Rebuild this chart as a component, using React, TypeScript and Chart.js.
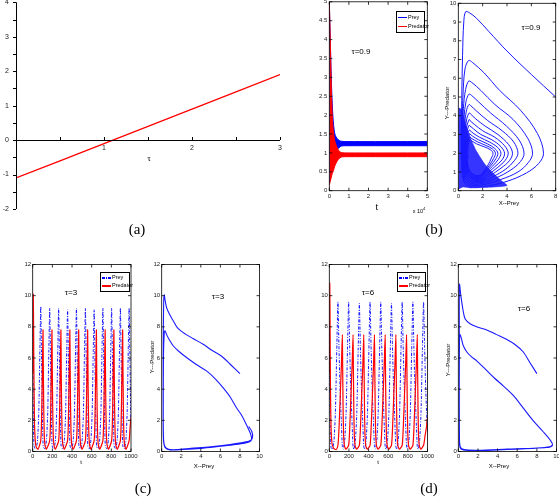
import React, { useEffect, useRef } from 'react';
import { Chart, registerables } from 'chart.js';
Chart.register(...registerables);

type P = [number, number];
const SANS = "'Liberation Sans', Arial, sans-serif";
const SERIF = "'Liberation Serif', 'DejaVu Serif', serif";
const RED = 'rgb(255,0,0)';
const BLUE = 'rgb(0,0,255)';

// ---------- (a) ----------
const aTau = [0, 0.5, 1, 1.5, 2, 2.5, 3];
const aVal = [-1.1, -0.6, -0.1, 0.4, 0.9, 1.4, 1.9];
const aXTicks = [0, 0.5, 1, 1.5, 2, 2.5, 3];
const aXLabels = ['', '', '1', '', '2', '', '3'];

// ---------- (b) time series envelopes (t in units, axis shown x10^4) ----------
const bT = [0, 500, 1000, 1500, 2000, 2500, 3000, 4000, 5000, 6000, 8000, 50000];
const bPreyHi = [5.0, 4.0, 3.0, 2.3, 1.85, 1.6, 1.47, 1.38, 1.33, 1.31, 1.3, 1.3];
const bPreyLo = [0.2, 0.35, 0.5, 0.65, 0.8, 0.9, 0.98, 1.08, 1.14, 1.18, 1.19, 1.19];
const bPredHi = [5.0, 4.0, 2.8, 2.0, 1.6, 1.4, 1.28, 1.14, 1.05, 1.01, 1.0, 1.0];
const bPredLo = [0.15, 0.25, 0.35, 0.45, 0.52, 0.6, 0.68, 0.78, 0.85, 0.89, 0.9, 0.9];

// ---------- (b) phase portrait ----------
const bPhase: P[] = [
  [8, 5], [6, 6.2], [4, 7.45], [2.5, 8.5], [1.5, 9.2], [0.9, 9.5], [0.6, 9.55], [0.45, 9.0],
  [0.35, 7.2], [0.27, 4], [0.28, 1.5], [0.45, 0.5], [1.0, 0.22], [2.1, 0.22], [4.0, 0.5], [5.6, 0.95], [6.6, 1.45], [7.0, 2.0], [6.5, 3.05], [5.1, 4.3], [3.4, 5.35], [2.1, 6.3], [1.15, 6.85], [0.85, 6.95], [0.55, 6.5],
  [0.38, 5.0], [0.3, 3.0], [0.32, 1.4], [0.5, 0.6], [1.05, 0.3], [1.9, 0.3], [3.5, 0.6], [4.9, 1.0], [5.75, 1.5], [6.1, 2.0], [5.7, 2.8], [4.5, 3.8], [3.0, 4.6], [1.85, 5.35], [1.1, 5.78], [0.85, 5.85], [0.6, 5.4],
  [0.42, 4.4], [0.35, 2.8], [0.38, 1.4], [0.55, 0.7], [1.1, 0.38], [1.9, 0.38], [3.1, 0.68], [4.3, 1.1], [5.1, 1.55], [5.4, 2.0], [5.0, 2.7], [3.95, 3.45], [2.65, 4.15], [1.65, 4.75], [1.1, 5.08], [0.87, 5.15], [0.63, 4.75],
  [0.47, 3.9], [0.4, 2.6], [0.43, 1.4], [0.6, 0.75], [1.15, 0.45], [1.9, 0.45], [2.85, 0.75], [3.9, 1.15], [4.6, 1.6], [4.9, 2.0], [4.55, 2.6], [3.6, 3.2], [2.4, 3.75], [1.5, 4.25], [1.05, 4.52], [0.88, 4.6], [0.66, 4.25],
  [0.52, 3.5], [0.45, 2.4], [0.48, 1.45], [0.65, 0.82], [1.2, 0.52], [1.9, 0.52], [2.6, 0.8], [3.5, 1.2], [4.2, 1.6], [4.45, 2.0], [4.15, 2.45], [3.25, 3.0], [2.2, 3.45], [1.4, 3.85], [1.0, 4.1], [0.9, 4.15], [0.7, 3.85],
  [0.56, 3.2], [0.5, 2.3], [0.53, 1.5], [0.7, 0.88], [1.25, 0.58], [1.9, 0.58], [2.45, 0.85], [3.25, 1.25], [3.85, 1.62], [4.1, 2.0], [3.8, 2.4], [3.0, 2.85], [2.0, 3.2], [1.3, 3.55], [0.95, 3.75], [0.9, 3.8], [0.72, 3.5],
  [0.6, 2.95], [0.55, 2.2], [0.58, 1.5], [0.75, 0.93], [1.3, 0.63], [1.9, 0.64], [2.35, 0.9], [3.0, 1.28], [3.6, 1.65], [3.8, 2.0], [3.5, 2.35], [2.75, 2.72], [1.85, 3.0], [1.25, 3.3], [0.95, 3.46], [0.9, 3.5], [0.75, 3.25],
  [0.63, 2.75], [0.6, 2.1], [0.63, 1.5], [0.8, 0.98], [1.3, 0.68], [1.85, 0.7], [2.25, 0.95], [2.8, 1.3], [3.3, 1.68], [3.5, 2.0], [3.25, 2.3], [2.55, 2.6], [1.75, 2.85], [1.2, 3.08], [0.95, 3.22], [0.92, 3.25], [0.78, 3.05],
  [0.66, 2.6], [0.64, 2.05], [0.67, 1.5], [0.84, 1.02], [1.32, 0.73], [1.85, 0.75], [2.2, 0.98], [2.65, 1.32], [3.08, 1.7], [3.25, 2.0], [3.0, 2.25], [2.4, 2.5], [1.65, 2.72], [1.15, 2.92], [0.95, 3.03], [0.93, 3.05], [0.8, 2.85],
  [0.7, 2.45], [0.68, 2.0], [0.71, 1.5], [0.88, 1.06], [1.35, 0.78], [1.85, 0.8], [2.15, 1.02], [2.55, 1.35], [2.9, 1.72], [3.05, 2.0], [2.82, 2.22], [2.25, 2.42], [1.6, 2.6], [1.12, 2.78], [0.96, 2.86], [0.94, 2.88], [0.82, 2.7],
  [0.73, 2.35], [0.72, 1.95], [0.75, 1.5], [0.92, 1.1], [1.38, 0.82], [1.85, 0.85], [2.1, 1.05], [2.45, 1.38], [2.72, 1.74], [2.85, 2.0], [2.65, 2.18], [2.1, 2.35], [1.5, 2.5], [1.1, 2.66], [0.97, 2.72], [0.85, 2.55], [0.78, 2.2], [0.8, 1.7],
];
const bDense: P[] = [
  [0.05, 0.1], [0.05, 4.4], [0.3, 4.3], [0.6, 3.6], [1.0, 2.8], [1.5, 2.1], [2.2, 1.4], [3.0, 0.85], [3.6, 0.5],
  [4.0, 0.28], [3.0, 0.2], [2.0, 0.17], [1.0, 0.15], [0.4, 0.2], [0.05, 0.1],
];

// ---------- (c) tau = 3 ----------
const cPrey: P[] = [
  [0, 8], [4, 4.5], [8, 1.5], [13, 0.4], [22, 0.2],
  [37, 0.2], [50, 0.8], [62, 2.5], [73, 6.5], [82, 9.3], [89, 6.5], [96, 3.2], [102, 1.2], [107, 0.35], [117, 0.2],
  [128, 0.2], [141, 0.8], [153, 2.5], [164, 6.5], [173, 9.2], [180, 6.5], [187, 3.2], [193, 1.2], [198, 0.35], [208, 0.2],
  [219, 0.2], [232, 0.8], [244, 2.5], [255, 6.5], [264, 9.2], [271, 6.5], [278, 3.2], [284, 1.2], [289, 0.35], [299, 0.2],
  [310, 0.2], [323, 0.8], [335, 2.5], [346, 6.5], [355, 9.1], [362, 6.5], [369, 3.2], [375, 1.2], [380, 0.35], [390, 0.2],
  [400, 0.2], [413, 0.8], [425, 2.5], [436, 6.5], [445, 9.2], [452, 6.5], [459, 3.2], [465, 1.2], [470, 0.35], [480, 0.2],
  [491, 0.2], [504, 0.8], [516, 2.5], [527, 6.5], [536, 9.2], [543, 6.5], [550, 3.2], [556, 1.2], [561, 0.35], [571, 0.2],
  [580, 0.2], [593, 0.8], [605, 2.5], [616, 6.5], [625, 9.1], [632, 6.5], [639, 3.2], [645, 1.2], [650, 0.35], [660, 0.2],
  [669, 0.2], [682, 0.8], [694, 2.5], [705, 6.5], [714, 9.2], [721, 6.5], [728, 3.2], [734, 1.2], [739, 0.35], [749, 0.2],
  [758, 0.2], [771, 0.8], [783, 2.5], [794, 6.5], [803, 9.2], [810, 6.5], [817, 3.2], [823, 1.2], [828, 0.35], [838, 0.2],
  [847, 0.2], [860, 0.8], [872, 2.5], [883, 6.5], [892, 9.2], [899, 6.5], [906, 3.2], [912, 1.2], [917, 0.35], [927, 0.2],
  [936, 0.2], [949, 0.8], [961, 2.5], [972, 6.5], [981, 9.2], [988, 6.5], [995, 3.2], [1000, 1.5],
];
const cPred: P[] = [
  [0, 5], [3, 8.5], [6, 10.1], [9, 8], [13, 4.5], [18, 2], [25, 0.8], [35, 0.3], [55, 0.15],
  [82, 0.7], [90, 2.0], [97, 4.5], [105, 7.8], [108, 5.5], [112, 3.0], [117, 1.2], [125, 0.4], [140, 0.15],
  [173, 0.7], [181, 2.0], [188, 4.5], [196, 7.8], [199, 5.5], [203, 3.0], [208, 1.2], [216, 0.4], [231, 0.15],
  [264, 0.7], [272, 2.0], [279, 4.5], [287, 7.8], [290, 5.5], [294, 3.0], [299, 1.2], [307, 0.4], [322, 0.15],
  [355, 0.7], [363, 2.0], [370, 4.5], [378, 7.8], [381, 5.5], [385, 3.0], [390, 1.2], [398, 0.4], [413, 0.15],
  [445, 0.7], [453, 2.0], [460, 4.5], [468, 7.8], [471, 5.5], [475, 3.0], [480, 1.2], [488, 0.4], [503, 0.15],
  [536, 0.7], [544, 2.0], [551, 4.5], [559, 7.8], [562, 5.5], [566, 3.0], [571, 1.2], [579, 0.4], [594, 0.15],
  [625, 0.7], [633, 2.0], [640, 4.5], [648, 7.8], [651, 5.5], [655, 3.0], [660, 1.2], [668, 0.4], [683, 0.15],
  [714, 0.7], [722, 2.0], [729, 4.5], [737, 7.8], [740, 5.5], [744, 3.0], [749, 1.2], [757, 0.4], [772, 0.15],
  [803, 0.7], [811, 2.0], [818, 4.5], [826, 7.8], [829, 5.5], [833, 3.0], [838, 1.2], [846, 0.4], [861, 0.15],
  [892, 0.7], [900, 2.0], [907, 4.5], [915, 7.8], [918, 5.5], [922, 3.0], [927, 1.2], [935, 0.4], [950, 0.15],
  [981, 0.7], [990, 1.5], [1000, 2.2],
];
const cPhase: P[] = [
  [8, 5.0], [7, 5.6], [6.1, 6.13], [5, 6.55], [4.24, 6.88], [3.2, 7.25], [2.2, 7.63], [1.6, 7.95], [1.19, 8.38], [0.8, 8.8],
  [0.5, 9.23], [0.35, 9.7], [0.26, 10.05], [0.2, 9.5], [0.16, 7], [0.15, 3], [0.18, 0.8], [0.34, 0.26], [0.85, 0.1],
  [2.2, 0.13], [4, 0.2], [5.6, 0.3], [7, 0.4], [8.3, 0.51], [9.0, 0.62], [9.2, 0.8], [9.1, 1.1], [8.9, 1.4], [8.64, 1.75],
  [8.2, 2.3], [7.63, 2.82], [7, 3.5], [6.27, 4.1], [5.5, 4.65], [4.58, 5.17], [3.5, 5.6], [2.54, 6.03], [1.8, 6.4],
  [1.19, 6.77], [0.75, 7.2], [0.5, 7.5], [0.34, 7.74], [0.25, 7.5], [0.18, 6], [0.16, 3], [0.18, 1], [0.3, 0.35],
  [0.7, 0.15], [1.5, 0.12], [3, 0.2], [5, 0.3], [7, 0.45], [8.5, 0.6], [9.15, 0.75], [9.3, 1.0], [9.2, 1.3], [8.9, 1.6],
];

// ---------- (d) tau = 6 ----------
const dPrey: P[] = [
  [0, 8], [6, 3], [12, 0.6], [20, 0.2],
  [33, 0.15], [48, 0.7], [62, 2.5], [76, 6.5], [88, 9.6], [98, 6.8], [110, 4.0], [122, 2.0], [133, 0.3],
  [142, 0.15], [157, 0.7], [171, 2.5], [185, 6.5], [197, 9.6], [207, 6.8], [219, 4.0], [231, 2.0], [242, 0.3],
  [251, 0.15], [266, 0.7], [280, 2.5], [294, 6.5], [306, 9.5], [316, 6.8], [328, 4.0], [340, 2.0], [351, 0.3],
  [360, 0.15], [375, 0.7], [389, 2.5], [403, 6.5], [415, 9.6], [425, 6.8], [437, 4.0], [449, 2.0], [460, 0.3],
  [469, 0.15], [484, 0.7], [498, 2.5], [512, 6.5], [524, 9.6], [534, 6.8], [546, 4.0], [558, 2.0], [569, 0.3],
  [578, 0.15], [593, 0.7], [607, 2.5], [621, 6.5], [633, 9.5], [643, 6.8], [655, 4.0], [667, 2.0], [678, 0.3],
  [687, 0.15], [702, 0.7], [716, 2.5], [730, 6.5], [742, 9.6], [752, 6.8], [764, 4.0], [776, 2.0], [787, 0.3],
  [796, 0.15], [811, 0.7], [825, 2.5], [839, 6.5], [851, 9.6], [861, 6.8], [873, 4.0], [885, 2.0], [896, 0.3],
  [905, 0.15], [920, 0.7], [934, 2.5], [948, 6.5], [960, 9.6], [970, 6.8], [982, 4.0], [994, 2.0], [1000, 1.3],
];
const dPred: P[] = [
  [0, 5], [3, 9.5], [5, 10.8], [8, 8], [12, 4], [18, 1.5], [28, 0.5], [45, 0.2], [70, 0.12],
  [88, 0.4], [99, 1.5], [111, 3.5], [123, 5.5], [133, 7.5], [136, 5.5], [140, 3.0], [145, 1.2], [153, 0.4], [168, 0.15],
  [197, 0.4], [208, 1.5], [220, 3.5], [232, 5.5], [242, 7.5], [245, 5.5], [249, 3.0], [254, 1.2], [262, 0.4], [277, 0.15],
  [306, 0.4], [317, 1.5], [329, 3.5], [341, 5.5], [351, 7.5], [354, 5.5], [358, 3.0], [363, 1.2], [371, 0.4], [386, 0.15],
  [415, 0.4], [426, 1.5], [438, 3.5], [450, 5.5], [460, 7.5], [463, 5.5], [467, 3.0], [472, 1.2], [480, 0.4], [495, 0.15],
  [524, 0.4], [535, 1.5], [547, 3.5], [559, 5.5], [569, 7.5], [572, 5.5], [576, 3.0], [581, 1.2], [589, 0.4], [604, 0.15],
  [633, 0.4], [644, 1.5], [656, 3.5], [668, 5.5], [678, 7.5], [681, 5.5], [685, 3.0], [690, 1.2], [698, 0.4], [713, 0.15],
  [742, 0.4], [753, 1.5], [765, 3.5], [777, 5.5], [787, 7.5], [790, 5.5], [794, 3.0], [799, 1.2], [807, 0.4], [822, 0.15],
  [851, 0.4], [862, 1.5], [874, 3.5], [886, 5.5], [896, 7.5], [899, 5.5], [903, 3.0], [908, 1.2], [916, 0.4], [931, 0.15],
  [960, 0.4], [975, 1.0], [990, 1.6], [1000, 2.2],
];
const dPhase: P[] = [
  [8, 5], [7.3, 5.7], [6.6, 6.4], [5.8, 6.85], [4.9, 7.2], [3.9, 7.5], [2.9, 7.8], [2.0, 7.98], [1.2, 8.2], [0.7, 8.5],
  [0.5, 9.0], [0.35, 9.6], [0.24, 10.1], [0.12, 10.75], [0.1, 10], [0.1, 7], [0.1, 3], [0.12, 0.8], [0.17, 0.25],
  [0.5, 0.1], [1.9, 0.06], [4, 0.1], [6, 0.15], [7.6, 0.2], [8.8, 0.25], [9.3, 0.28], [9.6, 0.4], [9.4, 0.7], [8.6, 1.3],
  [7.6, 2.0], [6.6, 2.8], [5.6, 3.6], [4.6, 4.2], [3.7, 4.7], [2.8, 5.25], [1.9, 5.8], [1.3, 6.1], [0.85, 6.4],
  [0.5, 6.8], [0.34, 7.2], [0.17, 7.5], [0.12, 7], [0.1, 4], [0.12, 1], [0.2, 0.3], [0.6, 0.12], [2, 0.08], [5, 0.15],
  [8, 0.22], [9.3, 0.3], [9.6, 0.42],
];

// ---------- helpers ----------
const xy = (a: P[]) => a.map(([x, y]) => ({ x, y }));
const xy2 = (xs: number[], ys: number[]) => xs.map((x, i) => ({ x, y: ys[i] }));
const fmt = (v: number) => String(Math.round(v * 100) / 100);

const boxFrame = {
  id: 'boxFrame',
  afterDatasetsDraw(chart: any) {
    const { ctx, chartArea: a, scales } = chart;
    const xs = scales.x, ys = scales.y;
    ctx.save();
    ctx.strokeStyle = '#000';
    ctx.lineWidth = 0.8;
    ctx.strokeRect(a.left, a.top, a.right - a.left, a.bottom - a.top);
    ctx.beginPath();
    for (const t of xs.ticks) {
      const p = xs.getPixelForValue(t.value);
      ctx.moveTo(p, a.bottom); ctx.lineTo(p, a.bottom - 3);
      ctx.moveTo(p, a.top); ctx.lineTo(p, a.top + 3);
    }
    for (const t of ys.ticks) {
      const p = ys.getPixelForValue(t.value);
      ctx.moveTo(a.left, p); ctx.lineTo(a.left + 3, p);
      ctx.moveTo(a.right, p); ctx.lineTo(a.right - 3, p);
    }
    ctx.stroke();
    ctx.restore();
  },
};

const crossAxes = {
  id: 'crossAxes',
  afterDatasetsDraw(chart: any) {
    const { ctx, chartArea: a, scales } = chart;
    const xs = scales.x, ys = scales.y;
    const y0 = Math.round(ys.getPixelForValue(0));
    const xl = Math.round(a.left);
    ctx.save();
    ctx.fillStyle = '#000';
    ctx.fillRect(xl, a.top, 1, a.bottom - a.top);
    for (const t of ys.ticks) {
      const p = Math.round(ys.getPixelForValue(t.value));
      ctx.fillRect(xl - 3, p, 3, 1);
    }
    ctx.fillRect(xl, y0, a.right - xl, 1);
    aXTicks.forEach((v) => {
      const p = Math.round(xs.getPixelForValue(v));
      ctx.fillRect(p, y0 - 3, 1, 3);
    });
    ctx.fillStyle = '#222';
    ctx.font = `7px ${SANS}`;
    ctx.textAlign = 'center';
    ctx.textBaseline = 'top';
    aXTicks.forEach((v, i) => {
      if (aXLabels[i]) ctx.fillText(aXLabels[i], xs.getPixelForValue(v), y0 + 5);
    });
    ctx.restore();
  },
};

type Box = { l: number; t: number; r: number; b: number };
type Fit = { l: number; t: number; r: number; b: number };

function ChartBox({ box, m, make }: { box: Box; m: Fit; make: (f: Fit) => any }) {
  const ref = useRef<HTMLCanvasElement>(null);
  const cl = Math.floor(box.l - m.l), ct = Math.floor(box.t - m.t);
  const cw = Math.ceil(box.r + m.r) - cl, ch = Math.ceil(box.b + m.b) - ct;
  const fit = { l: box.l - cl, t: box.t - ct, r: cl + cw - box.r, b: ct + ch - box.b };
  useEffect(() => {
    const chart = new Chart(ref.current as HTMLCanvasElement, make(fit));
    return () => chart.destroy();
  }, []);
  return (
    <canvas ref={ref} width={cw} height={ch}
      style={{ position: 'absolute', left: cl, top: ct, width: cw, height: ch, display: 'block' }} />
  );
}

type Ax = { min: number; max: number; step: number; cb?: (v: number) => string };

function stdConfig(fit: Fit, datasets: any[], x: Ax, y: Ax, pad: number) {
  const font = { family: SANS, size: 6 };
  return {
    type: 'line',
    data: { datasets },
    options: {
      responsive: false,
      animation: false,
      events: [],
      layout: { padding: { left: 0, right: fit.r, top: fit.t, bottom: 0 } },
      plugins: { legend: { display: false }, tooltip: { enabled: false } },
      elements: { point: { radius: 0 } },
      scales: {
        x: {
          type: 'linear', min: x.min, max: x.max,
          grid: { display: false, drawTicks: false }, border: { display: false },
          ticks: { stepSize: x.step, autoSkip: false, maxRotation: 0, font, color: '#222', padding: pad, callback: x.cb || fmt },
          afterFit: (s: any) => { s.height = fit.b; },
        },
        y: {
          type: 'linear', min: y.min, max: y.max,
          grid: { display: false, drawTicks: false }, border: { display: false },
          ticks: { stepSize: y.step, autoSkip: false, font, color: '#222', padding: pad, callback: y.cb || fmt },
          afterFit: (s: any) => { s.width = fit.l; },
        },
      },
    },
    plugins: [boxFrame],
  };
}

const line = (data: any[], color: string, extra: any = {}) => ({
  data, borderColor: color, backgroundColor: color, borderWidth: 1, pointRadius: 0, fill: false, tension: 0.2, ...extra,
});

const M: Fit = { l: 20, t: 8, r: 9, b: 14 };

function Txt({ x, y, size = 8, family = SANS, rot = 0, children }: any) {
  return (
    <div style={{
      position: 'absolute', left: x, top: y, transform: `translate(-50%,-50%) rotate(${rot}deg)`,
      fontSize: size, fontFamily: family, whiteSpace: 'nowrap', lineHeight: 1, color: '#000',
    }}>{children}</div>
  );
}

function Legend({ x, y, w, h, items }: any) {
  return (
    <div style={{
      position: 'absolute', left: x, top: y, width: w, height: h, border: '1px solid #000',
      background: '#fff', boxSizing: 'border-box', fontFamily: SANS, fontSize: 5.5, lineHeight: 1,
    }}>
      {items.map((it: any, i: number) => (
        <div key={i} style={{
          position: 'absolute', left: 1, top: 1 + (i * (h - 4)) / 2, height: (h - 4) / 2,
          display: 'flex', alignItems: 'center', whiteSpace: 'nowrap',
        }}>
          <span style={{
            display: 'inline-block', width: 9, height: 1.4, marginRight: 1,
            background: it.dash
              ? `repeating-linear-gradient(90deg, ${it.color} 0 3px, transparent 3px 4px, ${it.color} 4px 5px, transparent 5px 6px)`
              : it.color,
          }} />
          <span>{it.label}</span>
        </div>
      ))}
    </div>
  );
}

const xTime: Ax = { min: 0, max: 1000, step: 200 };
const y12: Ax = { min: 0, max: 12, step: 2 };
const x10: Ax = { min: 0, max: 10, step: 2 };

export default function App() {
  return (
    <div style={{ position: 'absolute', left: 0, top: 0, width: 559, height: 497, background: '#fff', overflow: 'hidden' }}>
      {/* (a) */}
      <ChartBox box={{ l: 16, t: 2.3, r: 280, b: 209 }} m={{ l: 16, t: 16, r: 8, b: 16 }} make={(f) => ({
        type: 'line',
        data: { datasets: [line(xy2(aTau, aVal), RED, { borderWidth: 1.3, tension: 0 })] },
        options: {
          responsive: false, animation: false, events: [],
          layout: { padding: { left: 0, right: f.r, top: f.t, bottom: f.b } },
          plugins: { legend: { display: false }, tooltip: { enabled: false } },
          scales: {
            x: { type: 'linear', min: 0, max: 3, display: false },
            y: {
              type: 'linear', min: -2, max: 4,
              grid: { display: false, drawTicks: false }, border: { display: false },
              ticks: { stepSize: 0.5, autoSkip: false, padding: 7, color: '#222', font: { family: SANS, size: 7 },
                callback: (v: number) => (Number.isInteger(v) ? String(v) : '') },
              afterFit: (s: any) => { s.width = f.l; },
            },
          },
        },
        plugins: [crossAxes],
      })} />

      {/* (b) left */}
      <ChartBox box={{ l: 329.3, t: 1.8, r: 427.3, b: 190.7 }} m={M} make={(f) => stdConfig(f, [
        line(xy2(bT, bPredHi), RED, { fill: '+1', tension: 0.3 }),
        line(xy2(bT, bPredLo), RED, { tension: 0.3 }),
        line(xy2(bT, bPreyHi), BLUE, { fill: '+1', tension: 0.3 }),
        line(xy2(bT, bPreyLo), BLUE, { tension: 0.3 }),
      ], { min: 0, max: 50000, step: 10000, cb: (v: number) => String(v / 10000) }, { min: 0, max: 5, step: 0.5 }, 2)} />

      {/* (b) right */}
      <ChartBox box={{ l: 458.3, t: 3.3, r: 555.7, b: 190.7 }} m={M} make={(f) => stdConfig(f, [
        line(xy(bPhase), 'rgb(25,25,255)', { tension: 0.35, borderWidth: 1 }),
        line(xy(bDense), 'rgba(25,25,255,0.9)', { fill: 'shape', borderWidth: 0.5, tension: 0.2, backgroundColor: 'rgba(25,25,255,0.88)' }),
      ], { min: 0, max: 8, step: 2 }, { min: 0, max: 10, step: 1 }, 2)} />

      {/* (c) left */}
      <ChartBox box={{ l: 32.7, t: 264.5, r: 131, b: 451.5 }} m={M} make={(f) => stdConfig(f, [
        line(xy(cPred), RED, { borderWidth: 1.2 }),
        line(xy(cPrey), 'rgba(0,0,255,0.9)', { borderDash: [3, 1.5, 1, 1.5] }),
      ], xTime, y12, 1.5)} />

      {/* (c) right */}
      <ChartBox box={{ l: 161.7, t: 264.5, r: 259.5, b: 451.5 }} m={M} make={(f) => stdConfig(f, [
        line(xy(cPhase), 'rgb(25,25,255)', { tension: 0.3, borderWidth: 1.1 }),
      ], x10, y12, 1.5)} />

      {/* (d) left */}
      <ChartBox box={{ l: 329.3, t: 264.5, r: 427.5, b: 451.5 }} m={M} make={(f) => stdConfig(f, [
        line(xy(dPred), RED, { borderWidth: 1.2 }),
        line(xy(dPrey), 'rgba(0,0,255,0.9)', { borderDash: [3, 1.5, 1, 1.5] }),
      ], xTime, y12, 1.5)} />

      {/* (d) right */}
      <ChartBox box={{ l: 458.3, t: 264.5, r: 556.5, b: 451.5 }} m={M} make={(f) => stdConfig(f, [
        line(xy(dPhase), 'rgb(25,25,255)', { tension: 0.3, borderWidth: 1.1 }),
      ], x10, y12, 1.5)} />

      {/* legends */}
      <Legend x={396} y={11} w={29} h={22} items={[{ label: 'Prey', color: BLUE }, { label: 'Predator', color: RED }]} />
      <Legend x={100} y={272} w={30} h={20} items={[{ label: 'Prey', color: BLUE, dash: true }, { label: 'Predator', color: RED }]} />
      <Legend x={397} y={272} w={29} h={20} items={[{ label: 'Prey', color: BLUE, dash: true }, { label: 'Predator', color: RED }]} />

      {/* annotations */}
      <Txt x={149} y={158} size={9} family={SERIF}>τ</Txt>
      <Txt x={361} y={52} size={8}>τ=0.9</Txt>
      <Txt x={377} y={207} size={10} family={SERIF}>t</Txt>
      <Txt x={419} y={211} size={5.5}>x 10<sup style={{ fontSize: 4 }}>4</sup></Txt>
      <Txt x={531} y={28} size={8}>τ=0.9</Txt>
      <Txt x={447} y={103} size={6} rot={-90}>Y---Predator</Txt>
      <Txt x={509} y={203} size={6}>X--Prey</Txt>

      <Txt x={71} y={293} size={8}>τ=3</Txt>
      <Txt x={81} y={462} size={6}>t</Txt>
      <Txt x={218} y={297} size={8}>τ=3</Txt>
      <Txt x={152} y={357} size={6} rot={-90}>Y---Predator</Txt>
      <Txt x={204} y={466} size={6}>X--Prey</Txt>

      <Txt x={368} y={293} size={8}>τ=6</Txt>
      <Txt x={378} y={462} size={6}>t</Txt>
      <Txt x={524} y={309} size={8}>τ=6</Txt>
      <Txt x={448} y={360} size={6} rot={-90}>Y---Predator</Txt>
      <Txt x={499} y={466} size={6}>X--Prey</Txt>

      {/* captions */}
      <Txt x={137} y={229} size={15} family={SERIF}>(a)</Txt>
      <Txt x={434} y={229} size={15} family={SERIF}>(b)</Txt>
      <Txt x={143} y={488} size={15} family={SERIF}>(c)</Txt>
      <Txt x={429} y={488} size={15} family={SERIF}>(d)</Txt>
    </div>
  );
}
